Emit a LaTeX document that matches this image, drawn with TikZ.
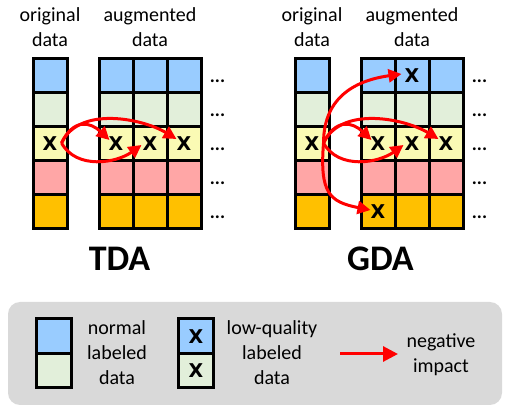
\documentclass[tikz,border=0pt]{standalone}
\usepackage{fontspec}
\setmainfont{Carlito}
\newfontfamily\xfont{DejaVu Sans}
\usetikzlibrary{arrows.meta,calc}
\definecolor{cblue}{HTML}{99CCFF}
\definecolor{cgreen}{HTML}{E2EFDA}
\definecolor{cyellow}{HTML}{FAFAB4}
\definecolor{cpink}{HTML}{FFA6A6}
\definecolor{corange}{HTML}{FFC000}
\definecolor{lgray}{HTML}{D9D9D9}
\begin{document}
\begin{tikzpicture}[x=1pt,y=-1pt,
 cell/.style={draw=black, line width=3pt, minimum width=34pt, minimum height=34pt, inner sep=0pt, font=\xfont\fontsize{19}{19}\selectfont\bfseries},
 xmark/.style={inner sep=0pt, font=\xfont\fontsize{19}{19}\selectfont\bfseries},
 neg/.style={draw=red, line width=3pt, -{Triangle[length=13pt,width=13pt]}},
 lbl/.style={align=center, font=\fontsize{20}{25}\selectfont, inner sep=0pt},
 dotsst/.style={font=\fontsize{19}{19}\selectfont\bfseries, inner sep=0pt, anchor=base},
 title/.style={font=\fontsize{36}{36}\selectfont\bfseries, inner sep=0pt, anchor=base}]
\useasboundingbox (0,0) rectangle (507,414);

% legend background
\node[fill=lgray, rounded corners=12pt, minimum width=494pt, minimum height=103pt, inner sep=0pt] (leg) at (255,353.5) {};

% grids
\foreach \dx/\p in {0/T, 262/G} {
  \foreach \r/\c in {1/cblue,2/cgreen,3/cyellow,4/cpink,5/corange} {
    \node[cell, fill=\c] (\p-o\r) at (50+\dx, 42+34*\r) {};
    \foreach \k in {1,2,3} {
      \node[cell, fill=\c] (\p-a\k\r) at (82+34*\k+\dx, 42+34*\r) {};
    }
    \node[dotsst] (\p-d\r) at (217.5+\dx, 48.5+34*\r) {...};
  }
}

% column titles
\node[lbl] (T-ot) at (50,27.5) {original\\data};
\node[lbl] (T-at) at (150,27.5) {augmented\\data};
\node[lbl] (G-ot) at (312,27.5) {original\\data};
\node[lbl] (G-at) at (412,27.5) {augmented\\data};

% X marks
\node[xmark] (Tx0) at (T-o3.center) {X};
\node[xmark] (Tx1) at (T-a13.center) {X};
\node[xmark] (Tx2) at (T-a23.center) {X};
\node[xmark] (Tx3) at (T-a33.center) {X};
\node[xmark] (Gx0) at (G-o3.center) {X};
\node[xmark] (Gx1) at (G-a13.center) {X};
\node[xmark] (Gx2) at (G-a23.center) {X};
\node[xmark] (Gx3) at (G-a33.center) {X};
\node[xmark] (Gxt) at (G-a21.center) {X};
\node[xmark] (Gxb) at (G-a15.center) {X};

% TDA arrows
\coordinate (Ts) at ($(Tx0.east)+(4,-1)$);
\draw[neg] (Ts) .. controls ($(Ts)+(12,-25)$) and ($(Tx1.west)+(-18,-22)$) .. ($(Tx1.west)+(1,-4)$);
\draw[neg] (Ts) .. controls ($(Ts)+(15,27)$) and ($(Tx2.west)+(-26,19)$) .. ($(Tx2.west)+(-1,1)$);
\draw[neg] (Ts) .. controls ($(Ts)+(18,-38)$) and ($(Tx3.west)+(-33,-25)$) .. ($(Tx3.west)+(0,-5)$);

% GDA arrows
\coordinate (Gs) at ($(Gx0.east)+(4,-1)$);
\draw[neg] (Gs) .. controls ($(Gs)+(12,-25)$) and ($(Gx1.west)+(-18,-22)$) .. ($(Gx1.west)+(1,-4)$);
\draw[neg] (Gs) .. controls ($(Gs)+(15,27)$) and ($(Gx2.west)+(-26,19)$) .. ($(Gx2.west)+(-1,1)$);
\draw[neg] (Gs) .. controls ($(Gs)+(18,-38)$) and ($(Gx3.west)+(-33,-25)$) .. ($(Gx3.west)+(0,-5)$);
\draw[neg] (Gs) .. controls ($(Gs)+(0,-48)$) and ($(Gxt.west)+(-46,4)$) .. ($(Gxt.west)+(-3,-2)$);
\draw[neg] (Gs) .. controls ($(Gs)+(-4,50)$) and ($(Gxb.west)+(-41,-10)$) .. ($(Gxb.west)+(0,-2)$);

% titles
\node[title] (T-title) at (119.5,271) {TDA};
\node[title] (G-title) at (380.5,271) {GDA};

% legend
\node[cell, minimum width=35pt, minimum height=34.5pt, fill=cblue] (L-n1) at (53.5,336.25) {};
\node[cell, minimum width=35pt, minimum height=34.5pt, fill=cgreen] (L-n2) at (53.5,370.75) {};
\node[cell, minimum width=35pt, minimum height=34.5pt, fill=cblue] (L-q1) at (196,336.25) {X};
\node[cell, minimum width=35pt, minimum height=34.5pt, fill=cgreen] (L-q2) at (196,370.75) {X};
\node[lbl] (L-nt) at (117,353) {normal\\labeled\\data};
\node[lbl] (L-qt) at (272,353) {low-quality\\labeled\\data};
\coordinate (L-a) at (340,354);
\coordinate (L-b) at (398,354);
\draw[draw=red, line width=3pt, -{Triangle[length=15pt,width=15pt]}] (L-a) -- (L-b);
\node[lbl] (L-it) at (441,355) {negative\\impact};
\end{tikzpicture}
\end{document}
